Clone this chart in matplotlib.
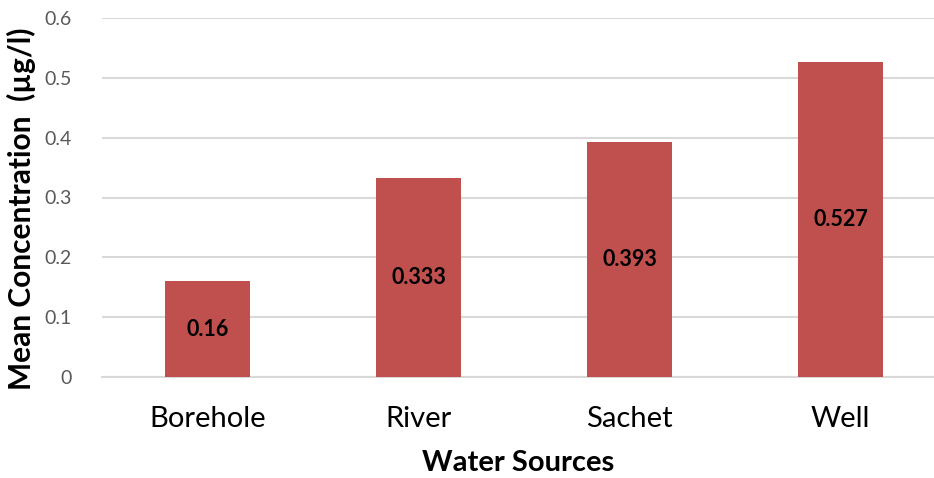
import matplotlib
matplotlib.use("Agg")
import matplotlib.pyplot as plt

sources = ["Borehole", "River", "Sachet", "Well"]
mean_conc = [0.16, 0.333, 0.393, 0.527]
value_labels = ["0.16", "0.333", "0.393", "0.527"]
yticks = [0, 0.1, 0.2, 0.3, 0.4, 0.5, 0.6]
ytick_labels = ["0", "0.1", "0.2", "0.3", "0.4", "0.5", "0.6"]

plt.rcParams["font.family"] = ["Lato", "DejaVu Sans"]

fig = plt.figure(figsize=(9.34, 4.78), dpi=100)
ax = fig.add_axes([102 / 934, 101 / 478, 832 / 934, 359 / 478])

xs = list(range(len(sources)))
bars = ax.bar(xs, mean_conc, width=0.4, color="#C0504D", zorder=3)

for x, v, lab in zip(xs, mean_conc, value_labels):
    ax.text(x, v / 2, lab, ha="center", va="center", fontsize=15.5,
            fontweight="bold", color="black", zorder=4)

ax.set_xlim(-0.5, -0.5 + 832 / 211)
ax.set_ylim(0, 0.6)
ax.set_yticks(yticks)
ax.set_yticklabels(ytick_labels, fontsize=14, color="#595959")
ax.set_xticks(xs)
ax.set_xticklabels(sources, fontsize=21, color="black")
ax.tick_params(axis="both", length=0)
ax.tick_params(axis="y", pad=22)
ax.tick_params(axis="x", pad=21)

ax.yaxis.grid(True, color="#D9D9D9", linewidth=1.5, zorder=0)
for s in ["top", "right", "left"]:
    ax.spines[s].set_visible(False)
ax.spines["bottom"].set_color("#D9D9D9")
ax.spines["bottom"].set_linewidth(1.5)

ax.set_ylabel("Mean Concentration  (\u00b5g/l)", fontsize=21.5, fontweight="bold")
ax.yaxis.set_label_coords(-66 / 832, 0.468)
ax.set_xlabel("Water Sources", fontsize=21, fontweight="bold", labelpad=13)

fig.savefig("out.png", dpi=100)
